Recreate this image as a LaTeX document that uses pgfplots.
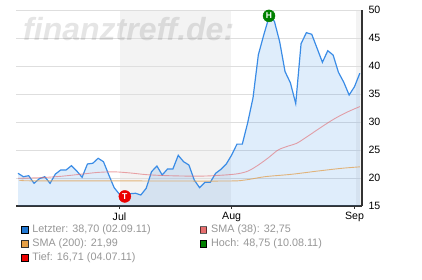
\documentclass[border=0pt]{standalone}
\usepackage{pgfplots}
\pgfplotsset{compat=1.18}
\usepackage{pgfplotstable}
\usepackage{fontspec}
\setmainfont{Liberation Sans}
\definecolor{lineblue}{RGB}{58,140,230}
\definecolor{boxblue}{RGB}{35,120,210}
\definecolor{smared}{RGB}{225,105,110}
\definecolor{boxred}{RGB}{230,110,110}
\definecolor{smaorange}{RGB}{225,165,90}
\definecolor{boxorange}{RGB}{230,160,70}
\definecolor{hgreen}{RGB}{0,128,0}
\definecolor{tred}{RGB}{235,0,0}
\definecolor{bandgray}{RGB}{243,243,243}
\definecolor{gridgray}{RGB}{222,222,222}
\definecolor{leggray}{RGB}{150,150,150}
\definecolor{axisdark}{RGB}{50,50,50}

\pgfplotstableread{
t v
-19 20.84
-18 20.23
-17 20.41
-16 19.05
-15 19.88
-14 20.23
-13 19.05
-12 20.71
-11 21.43
-10 21.43
-9 22.20
-8 21.25
-7 20.13
-6 22.50
-5 22.63
-4 23.52
-3 22.91
-2 20.54
-1 18.27
0 17.09
1 16.71
2 17.20
3 17.27
4 16.96
5 18.16
6 21.13
7 22.14
8 20.54
9 21.61
10 21.61
11 24.05
12 22.91
13 22.32
14 19.64
15 18.27
16 19.23
17 19.23
18 20.84
19 21.55
20 22.50
21 24.10
22 26.05
23 26.05
24 29.85
25 34.30
26 42.00
27 45.50
28 48.75
29 48.00
30 44.30
31 39.00
32 37.00
33 33.30
34 44.00
35 45.95
36 45.66
37 43.16
38 40.66
39 42.73
40 41.96
41 38.87
42 37.09
43 34.82
44 36.30
45 38.70
}\letzter

\pgfplotstableread{
t v
-19 19.95
-15 20.05
-11 20.30
-7 20.70
-4 21.00
-1 21.10
2 20.90
5 20.60
8 20.45
12 20.35
16 20.35
19.8 20.54
22.2 20.77
24.1 21.25
26 22.32
27.9 23.63
29.7 25.00
31.6 25.71
33.2 26.20
35.4 27.55
37.9 29.16
40.4 30.66
42.8 31.84
45 32.75
}\smaA

\pgfplotstableread{
t v
-18 19.62
-17 19.50
0 19.48
19.8 19.46
23.5 19.64
27.2 20.23
32.2 20.66
37.2 21.25
41.6 21.73
45 21.99
}\smaB

\begin{document}
\begin{tikzpicture}
\begin{axis}[
  at={(16pt,74pt)}, anchor=south west,
  scale only axis, width=346pt, height=196pt,
  xmin=-19.38, xmax=45.41, ymin=15, ymax=50,
  set layers=standard,
  axis x line*=bottom, axis y line*=right,
  axis line style={draw=axisdark, line width=1.2pt},
  ytick={15,20,...,50},
  xtick={0,21,44}, xticklabels={Jul,Aug,Sep},
  ymajorgrids, grid style={draw=gridgray, line width=0.9pt},
  y tick style={draw=none},
  x tick style={draw=axisdark, line width=0.8pt},
  tick align=outside, major tick length=3pt,
  /pgf/number format/assume math mode=true,
  tick label style={font=\fontsize{10.6}{12}\selectfont, text=black},
  legend columns=2,
  legend style={at={(0.0136,-0.0954)}, anchor=north west, draw=none, fill=none,
    inner sep=0pt, row sep=4pt,
    nodes={inner sep=0pt, text height=8pt, text depth=2pt, font=\fontsize{10.8}{12}\selectfont, text=leggray},
    cells={anchor=west},
    /tikz/column 1/.style={column sep=4pt},
    /tikz/column 2/.style={column sep=49pt},
    /tikz/column 3/.style={column sep=4pt}},
]
% month bands
\addplot[on layer=axis background, fill=bandgray, draw=none, forget plot] coordinates {(0.1,15) (0.1,50) (20.9,50) (20.9,15)};
\addplot[on layer=axis background, fill=bandgray, draw=none, forget plot] coordinates {(44.3,15) (44.3,50) (45.41,50) (45.41,15)};
% area under price
\addplot[fill=lineblue, fill opacity=0.16, draw=none, forget plot] table[x=t,y=v] {\letzter} \closedcycle;
% lines
\addplot[draw=lineblue, line width=1.2pt,
  legend image code/.code={\draw[fill=boxblue, draw=black, line width=0.8pt] (0pt,-3.3pt) rectangle (6.6pt,3.3pt);}]
  table[x=t,y=v] {\letzter};
\addlegendentry{Letzter: 38,70 (02.09.11)}
\addplot[draw=smared, draw opacity=0.6, line width=0.9pt, smooth,
  legend image code/.code={\draw[fill=boxred, draw=black, line width=0.8pt] (0pt,-3.3pt) rectangle (6.6pt,3.3pt);}]
  table[x=t,y=v] {\smaA};
\addlegendentry{SMA (38): 32,75}
\addplot[draw=smaorange, draw opacity=0.8, line width=0.9pt, smooth,
  legend image code/.code={\draw[fill=boxorange, draw=black, line width=0.8pt] (0pt,-3.3pt) rectangle (6.6pt,3.3pt);}]
  table[x=t,y=v] {\smaB};
\addlegendentry{SMA (200): 21,99}
\addplot[only marks, mark=*, mark size=6pt, mark options={fill=hgreen, draw=hgreen},
  nodes near coords={\textbf{H}},
  every node near coord/.append style={anchor=center, text=white, font=\fontsize{8.5}{9}\selectfont\bfseries},
  legend image code/.code={\draw[fill=hgreen, draw=black, line width=0.8pt] (0pt,-3.3pt) rectangle (6.6pt,3.3pt);}]
  coordinates {(28,48.95)};
\addlegendentry{Hoch: 48,75 (10.08.11)}
\addplot[only marks, mark=*, mark size=6pt, mark options={fill=tred, draw=tred},
  nodes near coords={\textbf{T}},
  every node near coord/.append style={anchor=center, text=white, font=\fontsize{8.5}{9}\selectfont\bfseries},
  legend image code/.code={\draw[fill=tred, draw=black, line width=0.8pt] (0pt,-3.3pt) rectangle (6.6pt,3.3pt);}]
  coordinates {(1,16.71)};
\addlegendentry{Tief: 16,71 (04.07.11)}
\end{axis}
\node[anchor=base west, inner sep=0pt, text=black, text opacity=0.10,
  font=\fontsize{32}{32}\selectfont\bfseries\itshape] at (23pt,239pt) {finanztreff.de:};
\path (0,0) rectangle (422pt,280pt);
\end{tikzpicture}
\end{document}
